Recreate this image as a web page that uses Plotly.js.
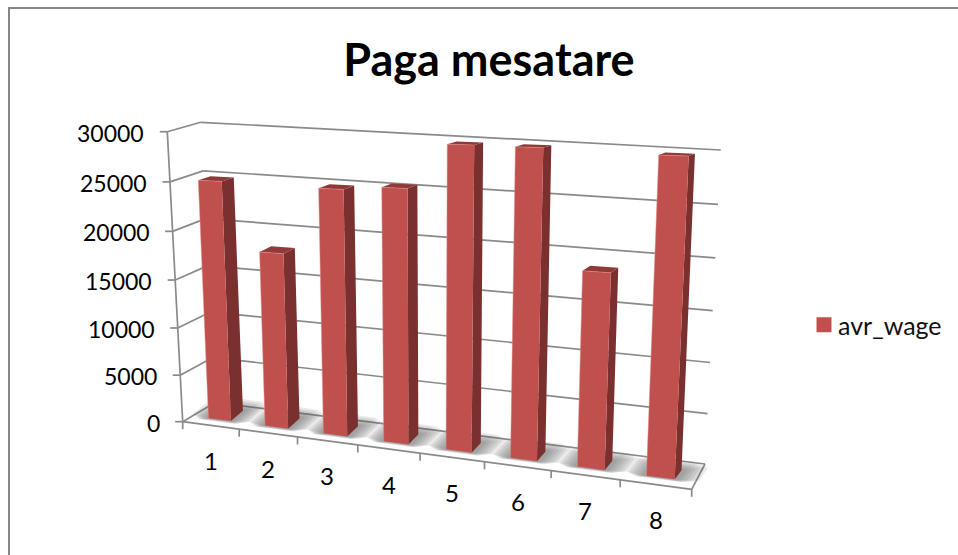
<!DOCTYPE html>
<html>
<head>
<meta charset="utf-8">
<script src="https://cdn.plot.ly/plotly-3.0.0.min.js"></script>
<style>html,body{margin:0;padding:0;background:#fff}#chart{width:958px;height:555px}</style>
</head>
<body>
<div id="chart"></div>
<script>
const chartTitle = 'Paga mesatare';
const seriesName = 'avr_wage';
const categories = ['1','2','3','4','5','6','7','8'];
const avr_wage = [25000,18100,24800,25200,29500,29480,18500,29200];
const yTicks = [0,5000,10000,15000,20000,25000,30000];
const yMax = 30000;

const barColor = '#C0504D', sideColor = '#7A302E', topColor = '#8F3A38', gridColor = '#8A8A8A';

// Projection of the tilted 3D box on the page: corners [x,y] of the wall box and of the slab holding the bars.
const wall = {
  f0b:[182.7,421.7], f1b:[691.7,489.3], f0t:[167.3,131.7], f1t:[707.2,164],
  b0b:[215,402.5],   b1b:[705,464],     b0t:[200.7,122.3], b1t:[720.7,150]
};
const slab = {
  f0b:[191.9,416],   f1b:[696.3,482.2], f0t:[178.6,129.8], f1t:[711.8,147.5],
  b0b:[204.4,405.5], b1b:[702.8,473.2], b0t:[191.1,127.1], b1t:[717.8,145.4]
};
const persp = 0.126, perspV = 0.045, barWidth = 0.4;
const warp = u => (1 - persp) * u / (1 - persp * u);
const warpV = w => (1 - perspV) * w / (1 - perspV * w);
const lerp = (a, b, t) => [a[0] + (b[0] - a[0]) * t, a[1] + (b[1] - a[1]) * t];
function project(box, u, v, w) {
  const s = warp(u), h = warpV(w);
  const fb = lerp(box.f0b, box.f1b, s), ft = lerp(box.f0t, box.f1t, s);
  const bb = lerp(box.b0b, box.b1b, s), bt = lerp(box.b0t, box.b1t, s);
  return lerp(lerp(fb, ft, h), lerp(bb, bt, h), v);
}
function poly(points) {
  const xs = [], ys = [];
  points.forEach(p => { xs.push(p[0]); ys.push(p[1]); });
  xs.push(points[0][0], null); ys.push(points[0][1], null);
  return [xs, ys];
}
function merge(list) {
  const x = [], y = [];
  list.forEach(p => { x.push(...p[0]); y.push(...p[1]); });
  return {x, y};
}
function seg(a, b) { return [[a[0], b[0], null], [a[1], b[1], null]]; }

const n = categories.length;
const gridSegs = [];
yTicks.forEach(t => {
  const w = t / yMax;
  gridSegs.push(seg(project(wall,0,0,w), project(wall,0,1,w)));
  gridSegs.push(seg(project(wall,0,1,w), project(wall,1,1,w)));
  const f = project(wall,0,0,w);
  gridSegs.push(seg([f[0]-7.5,f[1]], f));
});
gridSegs.push(seg(project(wall,0,0,0), project(wall,0,0,1)));
gridSegs.push(seg(project(wall,0,0,0), project(wall,1,0,0)));
gridSegs.push(seg(project(wall,1,0,0), project(wall,1,1,0)));
for (let i = 0; i <= n; i++) {
  const p = project(wall,i/n,0,0);
  gridSegs.push(seg(p,[p[0],p[1]+7.5]));
}

const fronts = [], sides = [], tops = [], lights = [];
avr_wage.forEach((val, i) => {
  const u0 = (i + 0.5 - barWidth/2) / n, u1 = (i + 0.5 + barWidth/2) / n, w = val / yMax;
  fronts.push(poly([project(slab,u0,0,0), project(slab,u1,0,0), project(slab,u1,0,w), project(slab,u0,0,w)]));
  sides.push(poly([project(slab,u1,0,0), project(slab,u1,1,0), project(slab,u1,1,w), project(slab,u1,0,w)]));
  tops.push(poly([project(slab,u0,0,w), project(slab,u1,0,w), project(slab,u1,1,w), project(slab,u0,1,w)]));
  lights.push(seg(project(slab,u0,0,0), project(slab,u0,0,w)));
  lights.push(seg(project(slab,u0,0,w), project(slab,u1,0,w)));
});

// soft floor shadow: stacked translucent footprints around each bar base
const shadowLayers = [];
[0.32,0.27,0.22,0.17,0.12,0.07].forEach(e => {
  const list = [];
  avr_wage.forEach((val, i) => {
    const a = (i + 0.5 - barWidth/2 - e) / n, b = (i + 0.5 + barWidth/2 + e) / n;
    const c = e * 0.6 / n, v0 = -e*0.6, v1 = 1 + e*3, dv = e*1.2;
    list.push(poly([
      project(slab,a+c,v0,0), project(slab,b-c,v0,0), project(slab,b,v0+dv,0),
      project(slab,b,v1-dv,0), project(slab,b-c,v1,0), project(slab,a+c,v1,0),
      project(slab,a,v1-dv,0), project(slab,a,v0+dv,0)
    ]));
  });
  shadowLayers.push({...merge(list), type:'scatter', mode:'none', fill:'toself',
    fillcolor:'rgba(90,90,90,0.13)', hoverinfo:'skip', showlegend:false});
});

const data = [
  {...merge(gridSegs), type:'scatter', mode:'lines', line:{color:gridColor,width:1.7}, hoverinfo:'skip', showlegend:false},
  ...shadowLayers,
  {...merge(sides), type:'scatter', mode:'none', fill:'toself', fillcolor:sideColor, hoverinfo:'skip', showlegend:false},
  {...merge(tops), type:'scatter', mode:'none', fill:'toself', fillcolor:topColor, hoverinfo:'skip', showlegend:false},
  {...merge(fronts), type:'scatter', mode:'none', fill:'toself', fillcolor:barColor, hoverinfo:'skip', showlegend:false},
  {...merge(lights), type:'scatter', mode:'lines', line:{color:'rgba(226,140,136,0.5)',width:1}, hoverinfo:'skip', showlegend:false},
  {x:[null], y:[null], type:'scatter', mode:'markers', name:seriesName, marker:{symbol:'square',size:15,color:barColor}}
];

const font = {family:'Lato, "Open Sans", sans-serif', size:23, color:'#000'};
const xFont = {family:'Lato, "Open Sans", sans-serif', size:24, color:'#000'};
const annotations = [];
yTicks.forEach(t => {
  const p = project(wall,0,0,t/yMax);
  annotations.push({x:p[0]-7.5-15.5, y:p[1]+1, xref:'x', yref:'y', text:String(t), showarrow:false,
    xanchor:'right', yanchor:'middle', font, borderpad:0, borderwidth:0});
});
categories.forEach((c, i) => {
  const p = project(wall,(i+0.5)/n,0,0);
  annotations.push({x:p[0], y:p[1]+35, xref:'x', yref:'y', text:c, showarrow:false,
    xanchor:'center', yanchor:'middle', font:xFont});
});

const layout = {
  width:958, height:555,
  margin:{l:0,r:0,t:0,b:0,pad:0},
  paper_bgcolor:'#fff', plot_bgcolor:'#fff',
  title:{text:chartTitle, x:489/958, xanchor:'center', y:1-60/555, yanchor:'middle',
    font:{family:'Lato, "Open Sans", sans-serif', size:45, color:'#000', weight:700}},
  xaxis:{range:[0,958], visible:false, fixedrange:true},
  yaxis:{range:[555,0], visible:false, fixedrange:true},
  showlegend:true,
  legend:{x:804/958, y:1-325/555, xanchor:'left', yanchor:'middle', bgcolor:'rgba(0,0,0,0)',
    font:{family:'Lato, "Open Sans", sans-serif', size:25, color:'#111'}},
  annotations,
  shapes:[
    {type:'line', xref:'paper', yref:'paper', x0:9/958, x1:1, y0:1-8/555, y1:1-8/555, line:{color:'#868686',width:2}},
    {type:'line', xref:'paper', yref:'paper', x0:9/958, x1:9/958, y0:1-7/555, y1:0, line:{color:'#868686',width:2}}
  ]
};
Plotly.newPlot('chart', data, layout, {displayModeBar:false, staticPlot:true}).then(gd => {
  // tighten the gap between the legend swatch and its label
  gd.querySelectorAll('.legendtext').forEach(t => t.setAttribute('x', parseFloat(t.getAttribute('x')) - 6));
});
</script>
</body>
</html>
